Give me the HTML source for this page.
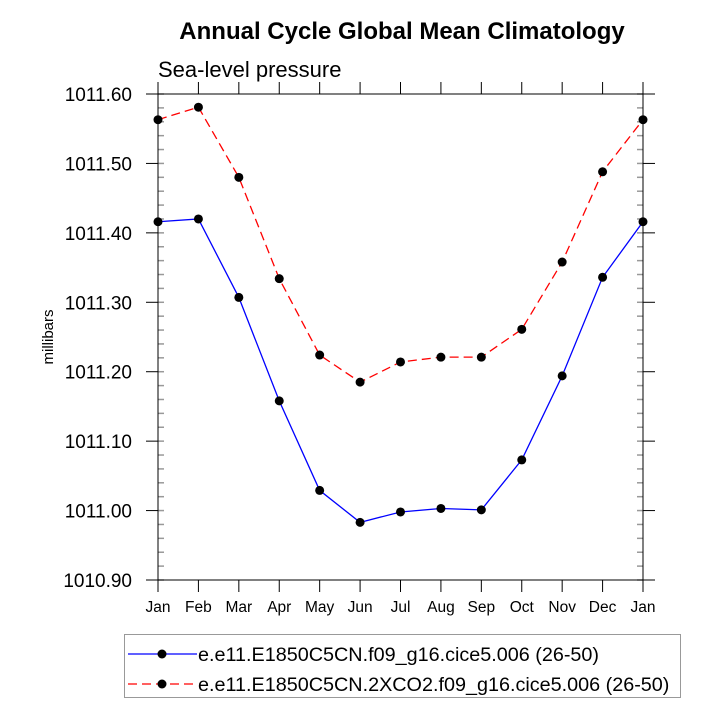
<!DOCTYPE html>
<html><head><meta charset="utf-8"><style>body{margin:0;background:#fff}svg{display:block;font-family:"Liberation Sans",sans-serif}</style></head>
<body>
<svg id="chart" width="720" height="720" viewBox="0 0 720 720"></svg>
<script>
const months = ["Jan","Feb","Mar","Apr","May","Jun","Jul","Aug","Sep","Oct","Nov","Dec","Jan"];
const controlValues = [1011.416,1011.420,1011.307,1011.158,1011.029,1010.983,1010.998,1011.003,1011.001,1011.073,1011.194,1011.336,1011.416];
const co2Values = [1011.563,1011.581,1011.480,1011.334,1011.224,1011.185,1011.214,1011.221,1011.221,1011.261,1011.358,1011.488,1011.563];
const yTicks = [1010.90,1011.00,1011.10,1011.20,1011.30,1011.40,1011.50,1011.60];
const yTickLabels = ["1010.90","1011.00","1011.10","1011.20","1011.30","1011.40","1011.50","1011.60"];
const seriesNames = ["e.e11.E1850C5CN.f09_g16.cice5.006 (26-50)","e.e11.E1850C5CN.2XCO2.f09_g16.cice5.006 (26-50)"];

const svg = document.getElementById('chart');
const NS = 'http://www.w3.org/2000/svg';
const X0=158, X1=643, Y0=94, Y1=580, YMIN=1010.9, YMAX=1011.6;
const xs = i => X0 + (X1-X0)*i/(months.length-1);
const ys = v => Y1 - (v-YMIN)/(YMAX-YMIN)*(Y1-Y0);
function mk(tag, attrs, parent){const e=document.createElementNS(NS,tag);for(const k in attrs)e.setAttribute(k,attrs[k]);(parent||svg).appendChild(e);return e;}

let t = mk('text',{x:402,y:39,'text-anchor':'middle','font-size':24,'font-weight':'bold'});


t.textContent='Annual Cycle Global Mean Climatology';
t = mk('text',{x:158,y:77,'font-size':22});


t.textContent='Sea-level pressure';
t = mk('text',{x:0,y:0,'font-size':15,'text-anchor':'middle',transform:'translate(53,337) rotate(-90)'});


t.textContent='millibars';

for(let v=YMIN; v<=YMAX+1e-6; v+=0.02){
  const y=ys(v);
  const m=mk('line',{x1:X0,x2:X0+6,y1:y,y2:y,stroke:'#999','stroke-width':1.5});
  
  
  const m2=mk('line',{x1:X1,x2:X1-6,y1:y,y2:y,stroke:'#999','stroke-width':1.5});
  
  
}
yTicks.forEach((v,i)=>{
  const y=ys(v);
  const l=mk('line',{x1:X0-12,x2:X0,y1:y,y2:y,stroke:'#000','stroke-width':1});
  
  
  const l2=mk('line',{x1:X1,x2:X1+12,y1:y,y2:y,stroke:'#000','stroke-width':1});
  
  
  const tx=mk('text',{x:132,y:y+7,'text-anchor':'end','font-size':19});
  
  
  tx.textContent=yTickLabels[i];
});
months.forEach((m,i)=>{
  const x=xs(i);
  const l=mk('line',{x1:x,x2:x,y1:Y1,y2:Y1+12,stroke:'#000','stroke-width':1});
  
  
  const l2=mk('line',{x1:x,x2:x,y1:Y0-12,y2:Y0,stroke:'#000','stroke-width':1});
  
  
  const tx=mk('text',{x:x,y:Y1+32,'text-anchor':'middle','font-size':15.5});
  
  
  tx.textContent=m;
});
const frame=mk('rect',{x:X0,y:Y0,width:X1-X0,height:Y1-Y0,fill:'none',stroke:'#000','stroke-width':1});



function series(vals,color,dash,name){
  const pts=vals.map((v,i)=>xs(i)+','+ys(v)).join(' ');
  const p=mk('polyline',{points:pts,fill:'none',stroke:color,'stroke-width':1.3,'stroke-dasharray':dash});
  
  
  vals.forEach((v,i)=>{
    const c=mk('circle',{cx:xs(i),cy:ys(v),r:4.5,fill:'#000'});
    
    
  });
}
series(co2Values,'#ff0000','9,5','co2-series');
series(controlValues,'#0000ff','none','control-series');

const lg=mk('g',{});


mk('rect',{x:124.5,y:634.5,width:556,height:63,fill:'#fff',stroke:'#999','stroke-width':1},lg);
[['#0000ff','none',654],['#ff0000','9,5',684]].forEach((s,i)=>{
  const e=mk('g',{},lg);
  
  
  mk('line',{x1:128,x2:197,y1:s[2],y2:s[2],stroke:s[0],'stroke-width':1.3,'stroke-dasharray':s[1]},e);
  mk('circle',{cx:162,cy:s[2],r:4.5,fill:'#000'},e);
  const tx=mk('text',{x:198,y:s[2]+7,'font-size':19.8},e);
  tx.textContent=seriesNames[i];
});
</script>
</body></html>
